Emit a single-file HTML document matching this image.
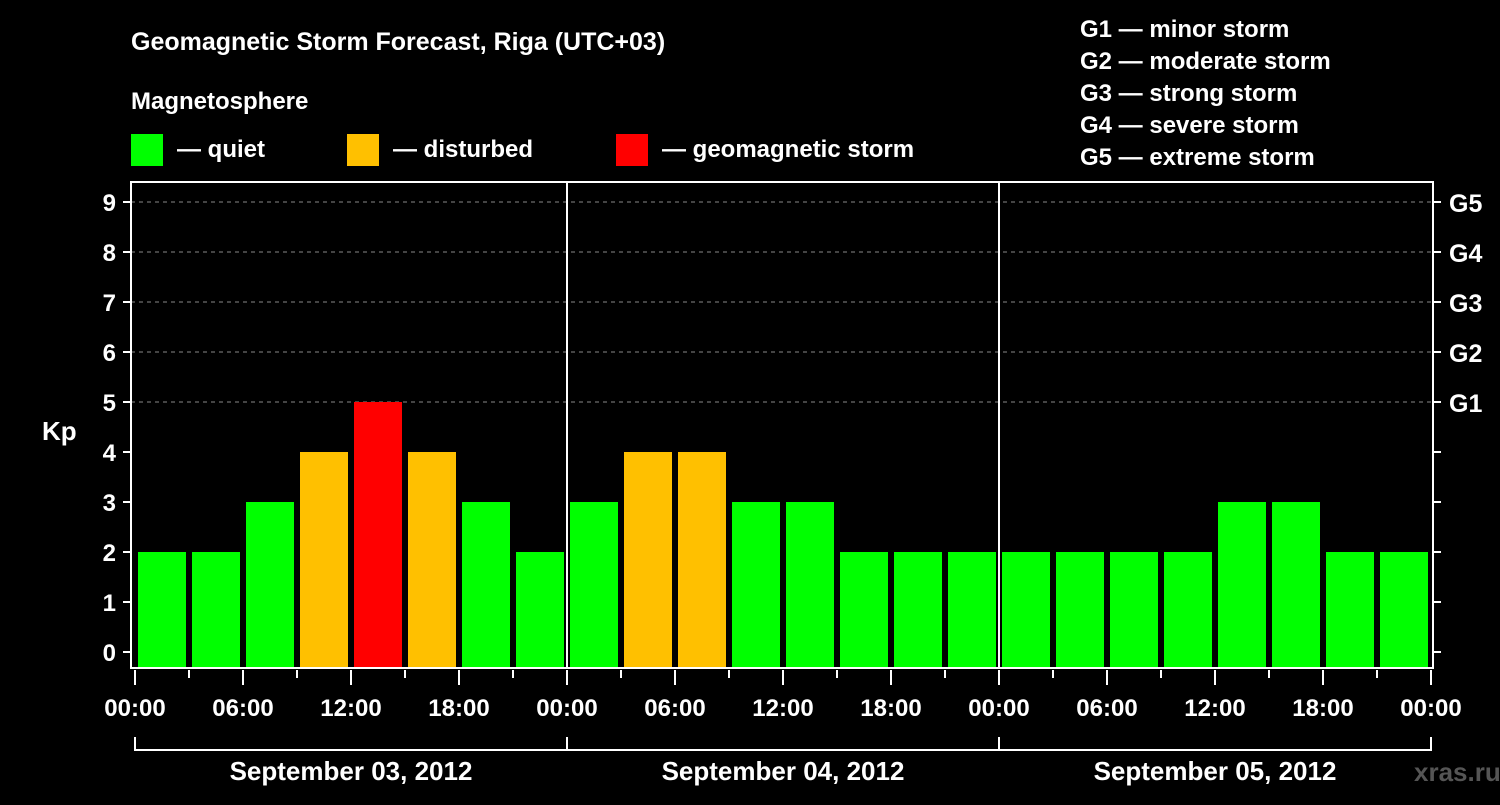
<!DOCTYPE html>
<html><head><meta charset="utf-8"><style>
body{margin:0;background:#000;}
svg text{font-family:"Liberation Sans",sans-serif;font-weight:bold;fill:#fff;}
</style></head><body>
<svg id="c" width="1500" height="800">
<text x="131" y="50" font-size="25">Geomagnetic Storm Forecast, Riga (UTC+03)</text>
<text x="131" y="109" font-size="24">Magnetosphere</text>
<g><rect x="131" y="134" width="32" height="32" fill="#00ff00"/><text x="177" y="157" font-size="24">— quiet</text></g>
<g><rect x="347" y="134" width="32" height="32" fill="#ffc000"/><text x="393" y="157" font-size="24">— disturbed</text></g>
<g><rect x="616" y="134" width="32" height="32" fill="#ff0000"/><text x="662" y="157" font-size="24">— geomagnetic storm</text></g>
<g font-size="24">
<text x="1080" y="37">G1 — minor storm</text>
<text x="1080" y="69">G2 — moderate storm</text>
<text x="1080" y="101">G3 — strong storm</text>
<text x="1080" y="133">G4 — severe storm</text>
<text x="1080" y="165">G5 — extreme storm</text>
</g>
<text x="42" y="440" font-size="26">Kp</text>
<text x="1414" y="781" font-size="26" fill="#555" style="fill:#555">xras.ru</text>
<g id="g"></g>
</svg>
<script>
const kpValues=[2,2,3,4,5,4,3,2, 3,4,4,3,3,2,2,2, 2,2,2,2,3,3,2,2];
const hourLabels=["00:00","06:00","12:00","18:00"];
const dayLabels=["September 03, 2012","September 04, 2012","September 05, 2012"];
const gLabels=["G1","G2","G3","G4","G5"];
const NS="http://www.w3.org/2000/svg";
const g=document.getElementById('g');
const X0=135,SLOT=54,Y0=652,UNIT=50,L=131,R=1433,T=182,B=668;
const xs=i=>X0+i*SLOT, ys=v=>Y0-v*UNIT;
function mk(t,a,p){const e=document.createElementNS(NS,t);for(const k in a)e.setAttribute(k,a[k]);(p||g).appendChild(e);return e;}
function col(v){return v>=5?"#ff0000":v>=4?"#ffc000":"#00ff00";}
for(let v=5;v<=9;v++){const l=mk('line',{x1:L,x2:R,y1:ys(v),y2:ys(v),stroke:'#888','stroke-dasharray':'4,4','stroke-width':1});

}
kpValues.forEach((v,i)=>{const r=mk('rect',{x:xs(i)+3,y:ys(v),width:48,height:B-ys(v),fill:col(v)});

});
for(let d=1;d<3;d++){const l=mk('line',{x1:xs(d*8),x2:xs(d*8),y1:T,y2:B,stroke:'#fff','stroke-width':2});

}
const box=mk('rect',{x:L,y:T,width:R-L,height:B-T,fill:'none',stroke:'#fff','stroke-width':2});


for(let v=0;v<=9;v++){
mk('line',{x1:123,x2:L,y1:ys(v),y2:ys(v),stroke:'#fff','stroke-width':2});
mk('line',{x1:R,x2:1441,y1:ys(v),y2:ys(v),stroke:'#fff','stroke-width':2});
const t=mk('text',{x:116,y:ys(v)+9,'font-size':24,'text-anchor':'end'});t.textContent=v;

}
gLabels.forEach((s,i)=>{const t=mk('text',{x:1449,y:ys(5+i)+10,'font-size':25});t.textContent=s;

});
for(let i=0;i<=24;i++){const major=i%2==0;mk('line',{x1:xs(i),x2:xs(i),y1:B+2,y2:B+(major?17:10),stroke:'#fff','stroke-width':2});
if(major){const t=mk('text',{x:xs(i),y:716,'font-size':24,'text-anchor':'middle'});t.textContent=hourLabels[(i/2)%4];

}}
dayLabels.forEach((s,d)=>{const a=xs(d*8),b=xs(d*8+8);
mk('path',{d:`M${a},737V750H${b}V737`,stroke:'#fff','stroke-width':2,fill:'none'});
const t=mk('text',{x:(a+b)/2,y:780,'font-size':26,'text-anchor':'middle'});t.textContent=s;

});
</script>
</body></html>
